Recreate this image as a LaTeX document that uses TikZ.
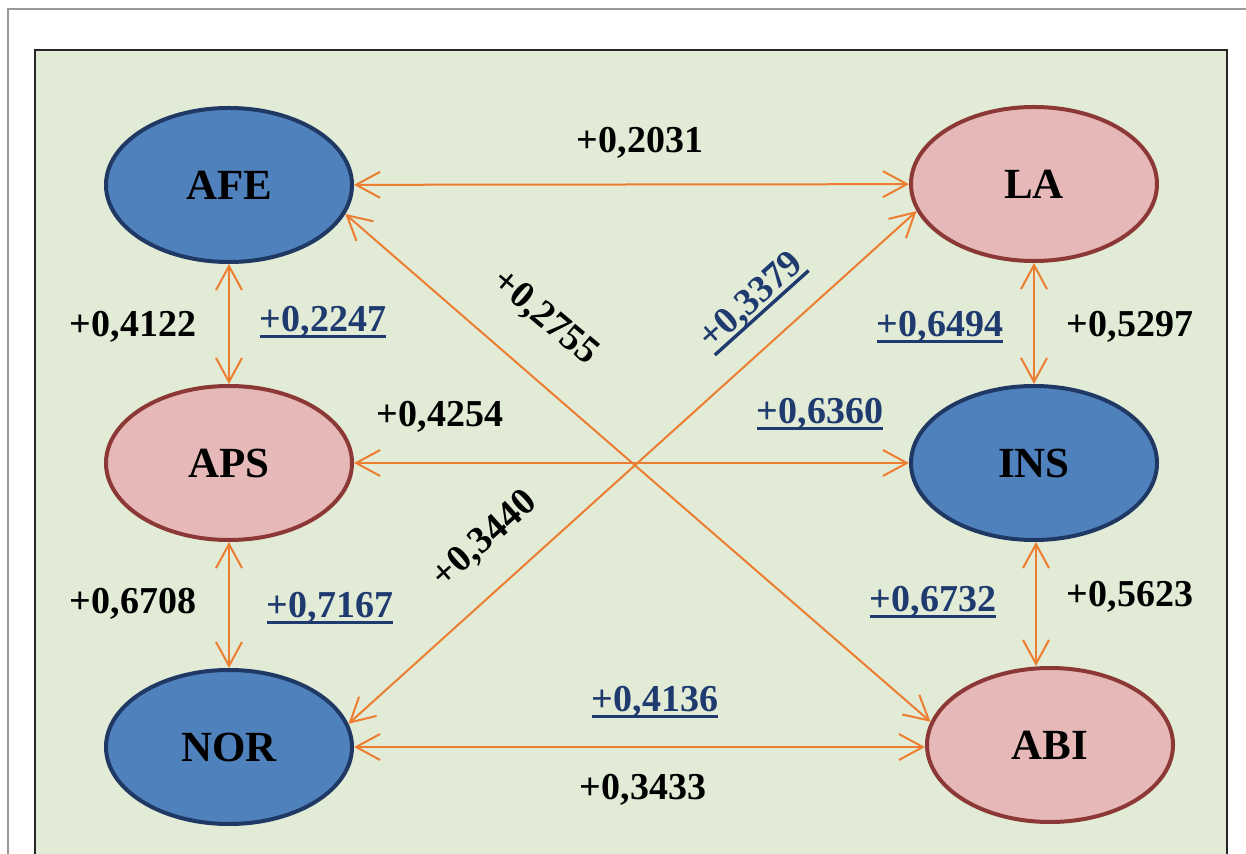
\documentclass[tikz,border=0pt]{standalone}
\usepackage{fontspec}
\setmainfont{Liberation Serif}
\usetikzlibrary{shapes.geometric,arrows.meta}
\definecolor{bggreen}{HTML}{E1EBD6}
\definecolor{bluefill}{HTML}{4F81BD}
\definecolor{blueline}{HTML}{1F3864}
\definecolor{pinkfill}{HTML}{E6B9B8}
\definecolor{pinkline}{HTML}{8C3836}
\definecolor{arrowc}{HTML}{ED7D31}
\definecolor{ulblue}{HTML}{1F3A6E}
\newcommand{\myul}[1]{\setbox0=\hbox{#1}\rlap{\rule[-3.6pt]{\wd0}{1.7pt}}\box0}
\tikzset{
  ell/.style={ellipse, minimum width=123pt, minimum height=77pt, line width=2pt, inner sep=0pt, font=\bfseries\fontsize{21.5}{24}\selectfont},
  bluenode/.style={ell, draw=blueline, fill=bluefill},
  pinknode/.style={ell, draw=pinkline, fill=pinkfill},
  conn/.style={draw=arrowc, line width=1pt, {Straight Barb[length=12pt,width=13pt,line width=1pt]}-{Straight Barb[length=12pt,width=13pt,line width=1pt]}},
  lbl/.style={inner sep=0pt, font=\bfseries\fontsize{19}{22}\selectfont, text=black},
  ulbl/.style={lbl, text=ulblue}
}
\begin{document}
\begin{tikzpicture}[x=0.5pt,y=-0.5pt]
\useasboundingbox (0,0) rectangle (1246,854);
\clip (0,0) rectangle (1246,854);
\fill[white] (0,0) rectangle (1246,854);
\draw[draw=gray!80, line width=0.8pt] (8,9) rectangle (1280,900);
\draw[fill=bggreen, draw=black!85, line width=1.2pt] (35,50) rectangle (1227,900);
% nodes
\node[bluenode] (AFE) at (229,185) {AFE};
\node[pinknode] (LA) at (1034,184) {LA};
\node[pinknode] (APS) at (229,463) {APS};
\node[bluenode] (INS) at (1034,463) {INS};
\node[bluenode] (NOR) at (229,747) {NOR};
\node[pinknode] (ABI) at (1050,745) {ABI};
% connectors
\draw[conn] (AFE) -- (LA);
\draw[conn] (APS) -- (INS);
\draw[conn] (NOR.east) -- (NOR.east -| ABI.west);
\draw[conn] (AFE) -- (APS);
\draw[conn] (APS) -- (NOR);
\draw[conn] (LA) -- (INS);
\draw[conn] ([xshift=1pt]INS.south) -- ([xshift=1pt]INS.south |- ABI.north);
\draw[conn] (AFE.-14.5) -- (ABI.169);
\draw[conn] (LA.193.6) -- (NOR.11.2);
% labels
\node[lbl] (l2031) at (640,143) {+0,2031};
\node[lbl] (l4122) at (133,327) {+0,4122};
\node[ulbl] (l2247) at (323,322) {\myul{+0,2247}};
\node[lbl, rotate=-40] (l2755) at (545,318) {+0,2755};
\node[ulbl, rotate=42] (l3379) at (752,302) {\myul{+0,3379}};
\node[ulbl] (l6494) at (940,327) {\myul{+0,6494}};
\node[lbl] (l5297) at (1130,327) {+0,5297};
\node[lbl] (l4254) at (440,417) {+0,4254};
\node[ulbl] (l6360) at (820,414) {\myul{+0,6360}};
\node[lbl, rotate=42] (l3440) at (485,540) {+0,3440};
\node[lbl] (l6708) at (133,604) {+0,6708};
\node[ulbl] (l7167) at (330,608) {\myul{+0,7167}};
\node[ulbl] (l6732) at (933,602) {\myul{+0,6732}};
\node[lbl] (l5623) at (1130,597) {+0,5623};
\node[ulbl] (l4136) at (655,702) {\myul{+0,4136}};
\node[lbl] (l3433) at (643,790) {+0,3433};
\end{tikzpicture}
\end{document}
